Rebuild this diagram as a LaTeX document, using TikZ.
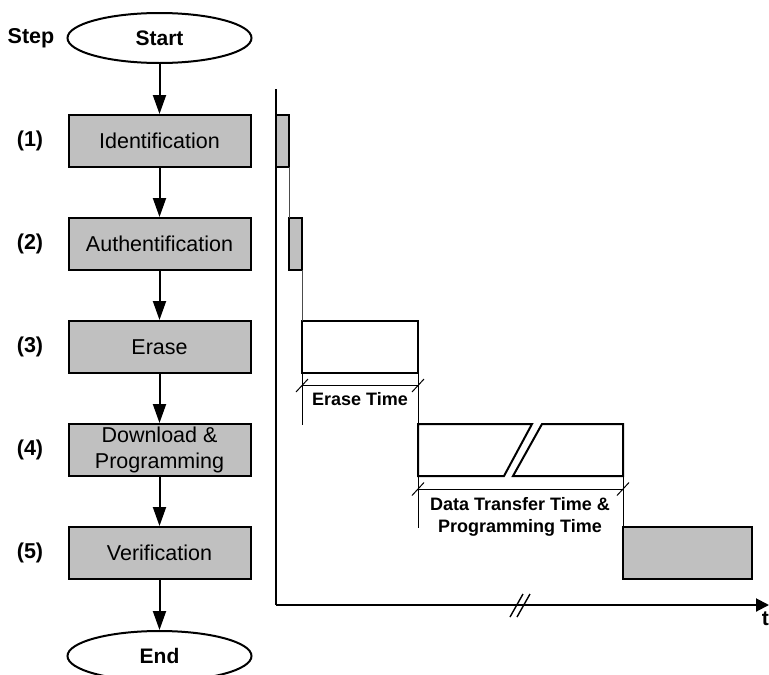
\documentclass[tikz,border=0pt]{standalone}
\usepackage{fontspec}
\setmainfont{Liberation Sans}
\usetikzlibrary{shapes.geometric,arrows.meta}
\definecolor{boxgray}{RGB}{192,192,192}

\begin{document}
\begin{tikzpicture}[x=1pt,y=-1pt,
  stepbox/.style={draw, line width=2pt, fill=boxgray, minimum width=182pt,
    minimum height=52pt, inner sep=0pt, align=center,
    font=\fontsize{21.5}{25.8}\selectfont},
  terminal/.style={draw, ellipse, line width=2pt, minimum width=184pt,
    minimum height=50pt, inner sep=0pt, font=\bfseries\fontsize{21}{25}\selectfont},
  flow/.style={line width=2pt, -{Triangle[length=19pt,width=13pt]}},
  steplabel/.style={font=\bfseries\fontsize{21.5}{25}\selectfont},
  bar/.style={draw, line width=2pt, anchor=north west, inner sep=0pt,
    outer sep=0pt, minimum height=52pt},
  axis/.style={line width=2pt},
  link/.style={line width=1pt, black!70},
  dimline/.style={line width=1pt},
  dimtext/.style={font=\bfseries\fontsize{18}{21.6}\selectfont, align=center}
]
\useasboundingbox (0,0) rectangle (769,675);

% ---------- flow chart ----------
\node[steplabel] (steptitle) at (31,38) {Step};
\node[terminal] (start) at (159.5,38) {Start};
\node[stepbox] (s1) at (159.5,141) {Identification};
\node[stepbox] (s2) at (159.5,244) {Authentification};
\node[stepbox] (s3) at (159.5,347) {Erase};
\node[stepbox] (s4) at (159.5,450) {Download \&\\Programming};
\node[stepbox] (s5) at (159.5,553) {Verification};
\node[terminal] (end) at (159.5,656) {End};

\node[steplabel] (n1) at (30,141) {(1)};
\node[steplabel] (n2) at (30,244) {(2)};
\node[steplabel] (n3) at (30,347) {(3)};
\node[steplabel] (n4) at (30,450) {(4)};
\node[steplabel] (n5) at (30,553) {(5)};

\draw[flow] (start) -- (s1);
\draw[flow] (s1) -- (s2);
\draw[flow] (s2) -- (s3);
\draw[flow] (s3) -- (s4);
\draw[flow] (s4) -- (s5);
\draw[flow] (s5) -- (end);

% ---------- time axis ----------
\coordinate (origin) at (276,605);
\coordinate (ytop) at (276,89);
\coordinate (xend) at (769,605);
\draw[axis] (ytop) -- (origin);
\draw[axis, -{Triangle[length=13pt,width=13pt]}] (origin) -- (xend);
\draw[line width=1.4pt] (510,617) -- (523,594) (517,617) -- (530,594);
\node[font=\bfseries\fontsize{21}{25}\selectfont, anchor=north east, inner sep=0pt]
  (tlabel) at (769,612) {t};

% ---------- timing bars ----------
\node[bar, fill=boxgray, minimum width=13pt] (t1) at (276,115) {};
\node[bar, fill=boxgray, minimum width=13pt] (t2) at (289,218) {};
\node[bar, fill=white, minimum width=116pt] (t3) at (302,321) {};
\node[bar, fill=boxgray, minimum width=129pt] (t5) at (623,527) {};

\draw[link] (t1.south east) -- (t2.north west);
\draw[link] (t2.south east) -- (t3.north west);

% broken download bar
\coordinate (d1) at (418,424);
\coordinate (d2) at (532,424);
\coordinate (d3) at (504,476);
\coordinate (d4) at (418,476);
\coordinate (d5) at (542,424);
\coordinate (d6) at (623,424);
\coordinate (d7) at (623,476);
\coordinate (d8) at (513,476);
\draw[line width=2pt, fill=white] (d1) -- (d2) -- (d3) -- (d4) -- cycle;
\draw[line width=2pt, fill=white] (d5) -- (d6) -- (d7) -- (d8) -- cycle;

% erase time dimension
\coordinate (ea) at (302,385.5);
\coordinate (eb) at (418,385.5);
\coordinate (eext) at (302,425);
\draw[dimline] (t3.south west) -- (eext);
\draw[dimline] (t3.south east) -- (d1);
\draw[dimline] (ea) -- (eb);
\draw[dimline] (ea) ++(-6,6.5) -- ++(12,-13);
\draw[dimline] (eb) ++(-6,6.5) -- ++(12,-13);
\node[dimtext] (erasetime) at (360,399) {Erase Time};

% data transfer dimension
\coordinate (pa) at (418,489);
\coordinate (pb) at (623,489);
\coordinate (pext) at (418,528);
\draw[dimline] (d4) -- (pext);
\draw[dimline] (d7) -- (t5.north west);
\draw[dimline] (pa) -- (pb);
\draw[dimline] (pa) ++(-6,6.5) -- ++(12,-13);
\draw[dimline] (pb) ++(-6,6.5) -- ++(12,-13);
\node[dimtext] (progtime) at (520,517) {Data Transfer Time \&\\Programming Time};
\end{tikzpicture}
\end{document}
